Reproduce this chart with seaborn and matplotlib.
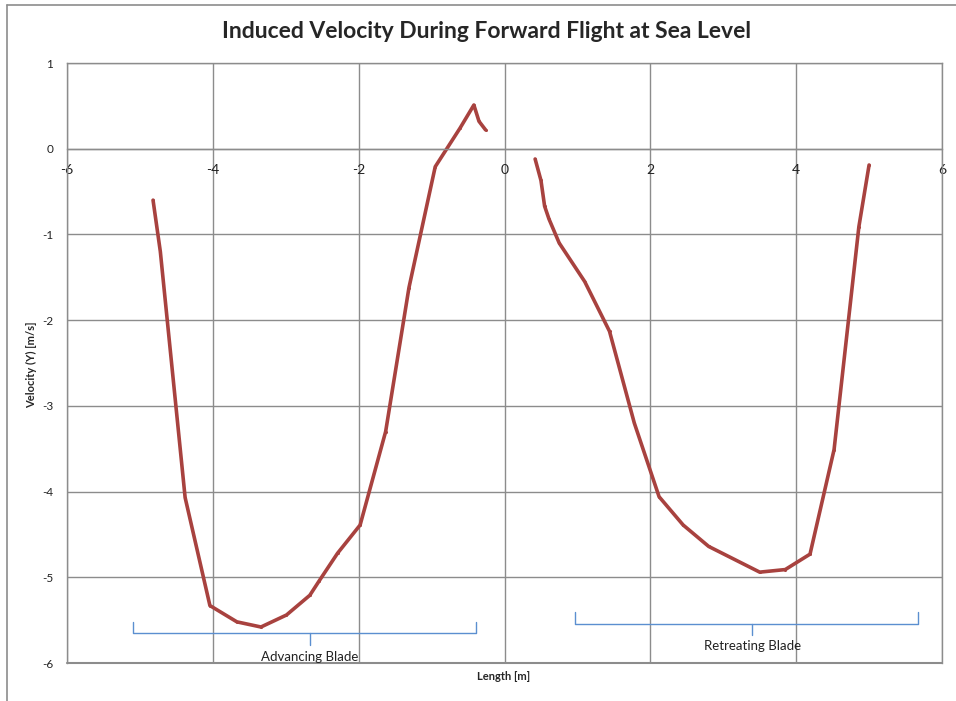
import matplotlib
matplotlib.use("Agg")
import matplotlib.pyplot as plt
import seaborn as sns
import pandas as pd
from matplotlib.lines import Line2D

# Advancing blade (left curve)
adv_x = [-4.82, -4.72, -4.38, -4.04, -3.67, -3.34, -2.99, -2.67, -2.54, -2.29,
         -1.98, -1.63, -1.31, -0.95, -0.61, -0.42, -0.35, -0.26]
adv_y = [-0.60, -1.20, -4.07, -5.33, -5.52, -5.58, -5.44, -5.21, -5.04, -4.72,
         -4.39, -3.30, -1.62, -0.21, 0.24, 0.51, 0.32, 0.22]
# Retreating blade (right curve)
ret_x = [0.42, 0.50, 0.55, 0.61, 0.75, 1.10, 1.44, 1.78, 2.12, 2.45, 2.80,
         3.50, 3.85, 4.19, 4.52, 4.86, 5.00]
ret_y = [-0.12, -0.37, -0.67, -0.82, -1.10, -1.55, -2.13, -3.20, -4.06, -4.39,
         -4.64, -4.94, -4.91, -4.73, -3.51, -0.91, -0.19]

x_ticks = [-6, -4, -2, 0, 2, 4, 6]
y_ticks = [1, 0, -1, -2, -3, -4, -5, -6]

# brace annotations (data coords)
brace_labels = ["Advancing Blade", "Retreating Blade"]
brace_x0 = [-5.10, 0.97]
brace_x1 = [-0.39, 5.67]
brace_xc = [-2.67, 3.40]
brace_line_y = [-5.65, -5.54]
brace_tip_y = [-5.52, -5.40]
brace_point_y = [-5.79, -5.67]
label_y = [-5.93, -5.80]

sns.set_style("white")
plt.rcParams['font.family'] = ['Lato', 'DejaVu Sans']

fig = plt.figure(figsize=(9.56, 7.01), dpi=100)
ax = fig.add_axes([67/956, 1 - 663/701, (942-67)/956, (663-63)/701])

line_color = "#A8423F"
df = pd.concat([
    pd.DataFrame({"x": adv_x, "y": adv_y, "s": "Advancing"}),
    pd.DataFrame({"x": ret_x, "y": ret_y, "s": "Retreating"}),
])
sns.lineplot(data=df, x="x", y="y", units="s", estimator=None, sort=False,
             color=line_color, lw=2.6, ax=ax, legend=False,
             marker="o", markersize=2.2, markeredgewidth=0)

ax.set_xlim(-6, 6)
ax.set_ylim(-6, 1)
ax.set_xticks(x_ticks)
ax.set_yticks(y_ticks)
ax.set_xticklabels([str(v) for v in x_ticks], fontsize=8.5)
ax.set_yticklabels([str(v) for v in y_ticks], fontsize=8.5)
ax.grid(True, color="#8c8c8c", lw=1.0)
ax.set_axisbelow(True)
for s in ["top", "left", "right", "bottom"]:
    ax.spines[s].set_color("#8c8c8c")
    ax.spines[s].set_linewidth(1.0)
ax.spines["bottom"].set_position(("data", 0))
ax.axhline(-6, color="#8c8c8c", lw=1.5, clip_on=False)
ax.tick_params(axis="both", length=0, colors="#222222")
ax.tick_params(axis="x", pad=11)
ax.tick_params(axis="y", pad=10)
for lab in ax.get_yticklabels():
    lab.set_horizontalalignment("right")

ax.set_xlabel("")
ax.set_ylabel("")
fig.text(504/956, 1 - 676/701, "Length [m]", ha="center", va="center",
         fontsize=8, fontweight="bold")
fig.text(32/956, 1 - 365/701, "Velocity (Y) [m/s]", ha="center", va="center",
         rotation=90, fontsize=8, fontweight="bold")
fig.text(487/956, 1 - 32/701, "Induced Velocity During Forward Flight at Sea Level",
         ha="center", va="center", fontsize=16.5, fontweight="bold")

brace_color = "#5B8FD0"
for i in range(len(brace_labels)):
    x0, x1, xc = brace_x0[i], brace_x1[i], brace_xc[i]
    yl, yt, yp = brace_line_y[i], brace_tip_y[i], brace_point_y[i]
    ax.plot([x0, x0, x1, x1], [yt, yl, yl, yt], color=brace_color, lw=1.0,
            clip_on=False)
    ax.plot([xc, xc], [yl, yp], color=brace_color, lw=1.0, clip_on=False)
    ax.text(xc, label_y[i], brace_labels[i], ha="center", va="center",
            fontsize=9.5, color="#222222")

# outer chart-area border (left and top edges)
fig.add_artist(Line2D([7/956, 7/956], [0, 1 - 5/701], color="#8c8c8c", lw=1.2,
                      transform=fig.transFigure))
fig.add_artist(Line2D([7/956, 1], [1 - 5/701, 1 - 5/701], color="#8c8c8c", lw=1.2,
                      transform=fig.transFigure))

fig.savefig("out.png", dpi=100, facecolor="white")
